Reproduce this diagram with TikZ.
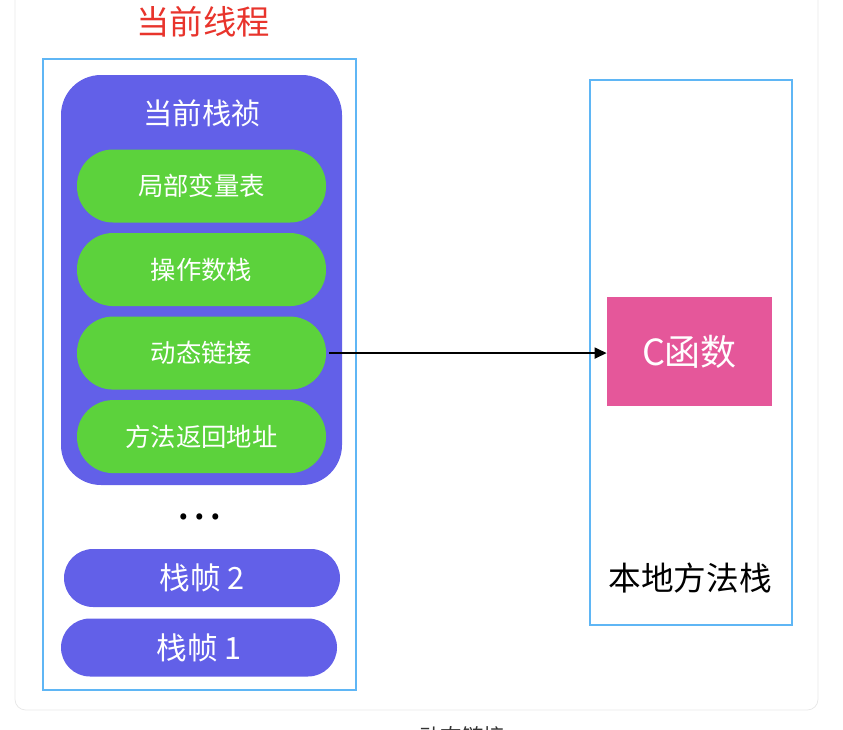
\documentclass[tikz,border=0pt]{standalone}
\usepackage{fontspec}
\setmainfont{Noto Sans CJK SC}
\usetikzlibrary{positioning,arrows.meta}
\definecolor{frameblue}{RGB}{95,182,245}
\definecolor{framepurple}{RGB}{98,96,232}
\definecolor{slotgreen}{RGB}{92,210,60}
\definecolor{funcpink}{RGB}{229,87,154}
\definecolor{threadred}{RGB}{232,52,44}

\begin{document}
\begin{tikzpicture}[x=0.75pt,y=-0.75pt,node distance=7.5pt,
                    every node/.style={inner sep=0pt,text=white}]

  \useasboundingbox (0,0) rectangle (843,729);

  % outer card and the two stack frames
  \draw[black!9,line width=0.6pt,rounded corners=8pt] (15,-20) rectangle (818,710);
  \draw[frameblue,line width=1.1pt] (43,59) rectangle (356,690);
  \draw[frameblue,line width=1.1pt] (590,80) rectangle (792,625);

  \node[text=threadred,font=\fontsize{25}{29}\selectfont] (thread) at (203,22) {当前线程};

  \begin{scope}[every node/.append style={rounded corners=27pt,rectangle,
        minimum width=186.75pt,minimum height=54.75pt,fill=slotgreen,
        font=\fontsize{19}{23}\selectfont}]
    \node[fill=framepurple,rounded corners=30pt,minimum width=210.75pt,
          minimum height=307.5pt] (current) at (201.5,280) {};
    \node[fill=none,font=\fontsize{22}{26}\selectfont] (curlabel) at (202,113) {当前栈祯};
    \node (locals) at (201.5,186) {局部变量表};
    \node[below=of locals] (operands) {操作数栈};
    \node[below=of operands] (dynlink) {动态链接};
    \node[below=of dynlink] (retaddr) {方法返回地址};
  \end{scope}

  \node[text=black,font=\fontsize{34}{36}\selectfont] (dots) at (200,517) {.\kern2.5pt.\kern2.5pt.};

  \begin{scope}[every node/.append style={rounded corners=21.75pt,rectangle,
        minimum width=207pt,minimum height=43.5pt,fill=framepurple,
        font=\fontsize{23}{27}\selectfont}]
    \node (frame2) at (202,578) {栈帧 2};
    \node (frame1) at (199,647.5) {栈帧 1};
  \end{scope}

  \node[fill=funcpink,minimum width=123.75pt,minimum height=81.75pt,
        font=\fontsize{27}{31}\selectfont] (cfunc) at (689.5,351.5) {C函数};
  \node[text=black,font=\fontsize{24.5}{28}\selectfont] (native) at (690,578) {本地方法栈};

  \draw[-{Triangle[length=9pt,width=8pt]},line width=1.8pt]
    ([xshift=2pt]dynlink.east) -- (dynlink.east -| cfunc.west);

  \node[text=black!80,font=\fontsize{16}{20}\selectfont] (caption) at (462,736) {动态链接};
\end{tikzpicture}
\end{document}
